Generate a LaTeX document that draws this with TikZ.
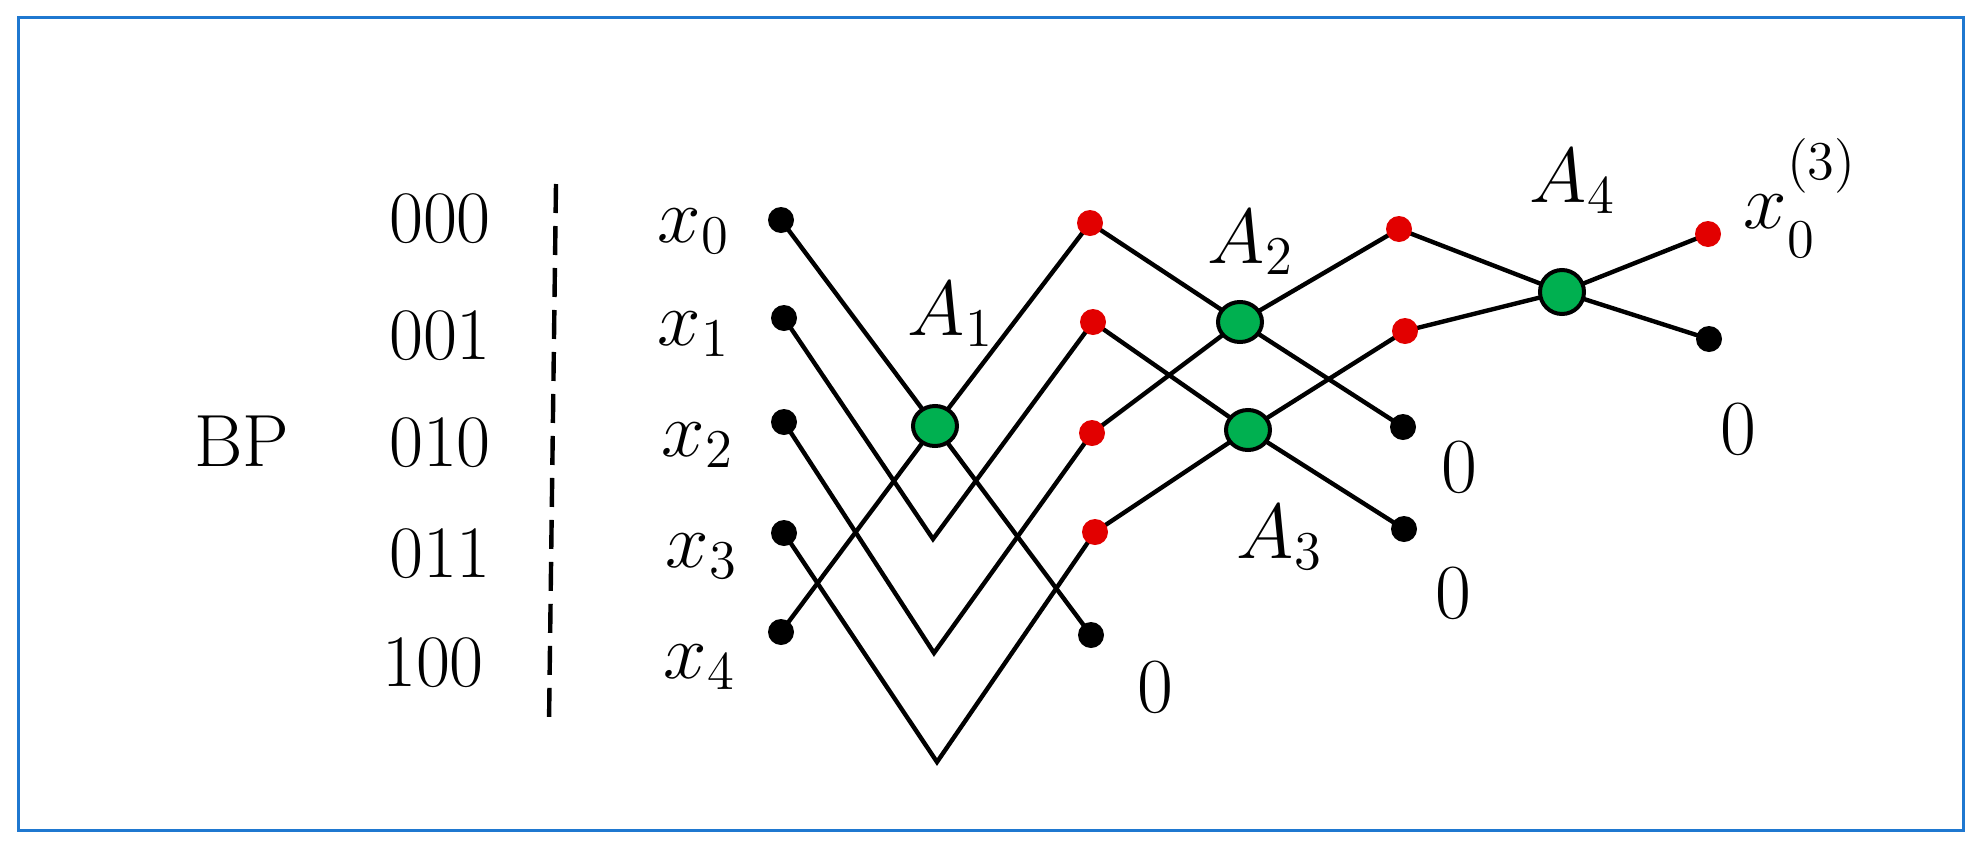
\RequirePackage{fix-cm}
\documentclass[tikz,border=0pt]{standalone}
\usetikzlibrary{shapes.geometric}
\definecolor{dotred}{RGB}{226,0,0}
\definecolor{nodegreen}{RGB}{0,176,80}
\definecolor{frameblue}{RGB}{31,120,208}
\pgfdeclarelayer{bg}
\pgfsetlayers{bg,main}
\begin{document}
\begin{tikzpicture}[x=0.25pt,y=-0.25pt,
  bdot/.style={circle,fill=black,inner sep=0pt,minimum size=6.5pt},
  rdot/.style={circle,fill=dotred,inner sep=0pt,minimum size=6.5pt},
  gnode/.style={ellipse,draw=black,line width=1pt,fill=nodegreen,inner sep=0pt,minimum width=11pt,minimum height=10pt},
  wire/.style={line width=1.1pt,line join=miter},
  lbl/.style={inner sep=0pt,font=\fontsize{18.5}{22}\selectfont},
  mlbl/.style={inner sep=0pt,font=\fontsize{19.5}{22}\selectfont},
  zlbl/.style={inner sep=0pt,font=\fontsize{19.5}{22}\selectfont},
]
\useasboundingbox (0,0) rectangle (1985,847);
\draw[frameblue,line width=0.75pt] (18,17) rectangle (1963,830);

% left labels
\node[lbl,anchor=base] (bp) at (242,466) {BP};
\node[lbl,anchor=base] (b000) at (440,242) {000};
\node[lbl,anchor=base] (b001) at (440,359) {001};
\node[lbl,anchor=base] (b010) at (440,466) {010};
\node[lbl,anchor=base] (b011) at (440,577) {011};
\node[lbl,anchor=base] (b100) at (433,686) {100};
\coordinate (dtop) at (556,184);
\coordinate (dbot) at (549,724);
\draw[line width=1.1pt,dash pattern=on 7.25pt off 3.25pt] (dtop) -- (dbot);

\node[mlbl,anchor=base west] (lx0) at (657,242) {$x_0$};
\node[mlbl,anchor=base west] (lx1) at (657,345) {$x_1$};
\node[mlbl,anchor=base west] (lx2) at (661,456) {$x_2$};
\node[mlbl,anchor=base west] (lx3) at (665,567) {$x_3$};
\node[mlbl,anchor=base west] (lx4) at (663,678) {$x_4$};

% column 1
\node[bdot] (x0) at (781,220) {};
\node[bdot] (x1) at (784,318) {};
\node[bdot] (x2) at (784,422) {};
\node[bdot] (x3) at (784,533) {};
\node[bdot] (x4) at (781,632) {};
\coordinate (V1) at (933,539);
\coordinate (V2) at (934,653);
\coordinate (V3) at (937,762);
\node[gnode] (A1) at (935,426) {};
% column 2
\node[rdot] (r0) at (1090,223) {};
\node[rdot] (r1) at (1093,322) {};
\node[rdot] (r2) at (1092,433) {};
\node[rdot] (r3) at (1095,532) {};
\node[bdot] (b0) at (1091,635) {};
\node[gnode] (A2) at (1240,322) {};
\node[gnode] (A3) at (1248,430) {};
% column 3
\node[rdot] (s0) at (1399,229) {};
\node[rdot] (s1) at (1405,331) {};
\node[bdot] (c0) at (1403,427) {};
\node[bdot] (c1) at (1404,529) {};
\node[gnode,minimum width=11pt,minimum height=11pt] (A4) at (1562,292) {};
% column 4
\node[rdot] (t0) at (1708,234) {};
\node[bdot] (t1) at (1709,339) {};

\begin{pgfonlayer}{bg}
\draw[wire] (x0.center) -- (A1.center) -- (b0.center);
\draw[wire] (x4.center) -- (A1.center) -- (r0.center);
\draw[wire] (x1.center) -- (V1) -- (r1.center);
\draw[wire] (x2.center) -- (V2) -- (r2.center);
\draw[wire] (x3.center) -- (V3) -- (r3.center);
\draw[wire] (r0.center) -- (A2.center) -- (c0.center);
\draw[wire] (r2.center) -- (A2.center) -- (s0.center);
\draw[wire] (r1.center) -- (A3.center) -- (c1.center);
\draw[wire] (r3.center) -- (A3.center) -- (s1.center);
\draw[wire] (s0.center) -- (A4.center) -- (t1.center);
\draw[wire] (s1.center) -- (A4.center) -- (t0.center);
\end{pgfonlayer}

% stage labels
\node[mlbl,anchor=base west] (lA1) at (907,335) {$A_1$};
\node[mlbl,anchor=base west] (lA2) at (1207,263) {$A_2$};
\node[mlbl,anchor=base west] (lA3) at (1236,558) {$A_3$};
\node[mlbl,anchor=base west] (lA4) at (1529,202) {$A_4$};
\node[mlbl,anchor=base west] (lout) at (1743,228) {$x_{\raisebox{-0.3ex}{$\scriptstyle 0$}}^{\raisebox{0.6ex}{$\scriptstyle(3)$}}$};
\node[zlbl,anchor=base] (z1) at (1155,712) {0};
\node[zlbl,anchor=base] (z2) at (1459,492) {0};
\node[zlbl,anchor=base] (z3) at (1453,618) {0};
\node[zlbl,anchor=base] (z4) at (1738,454) {0};
\end{tikzpicture}
\end{document}
